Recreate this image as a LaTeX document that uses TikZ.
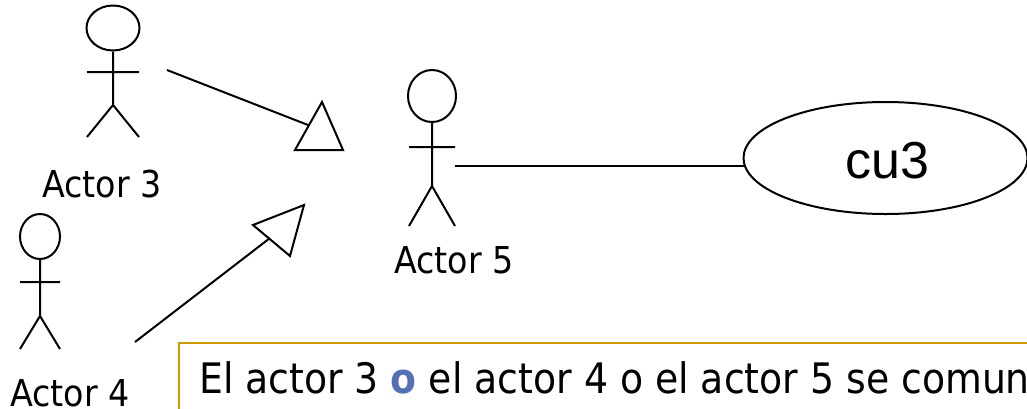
\documentclass[tikz,border=0pt]{standalone}
\usepackage{fontspec}
\setmainfont{DejaVu Sans Condensed}
\newfontfamily\arialfont{Liberation Sans}
\definecolor{boxgold}{HTML}{CC9900}
\definecolor{boxblue}{HTML}{5570B5}
\tikzset{
  stroke/.style={draw=black,line width=2pt},
  head/.style={stroke,ellipse,inner sep=0pt,minimum width=2*#1},
  actorlabel/.style={inner sep=0pt,anchor=base west,font=\fontsize{37}{37}\selectfont},
  usecase/.style={stroke,ellipse,inner sep=0pt,minimum width=284pt,minimum height=112pt},
  notebox/.style={draw=boxgold,line width=2pt}
}
\usetikzlibrary{shapes.geometric}
\begin{document}
\begin{tikzpicture}[x=1pt,y=-1pt,line join=miter]
\useasboundingbox (0,0) rectangle (1027,408);
% Actor 3
\node[head=26.5pt,minimum height=45pt] (h3) at (113,28) {};
\coordinate (hip3) at (113,105);
\coordinate (al3) at (87,72); \coordinate (ar3) at (139,72);
\coordinate (ll3) at (87,137); \coordinate (lr3) at (139,137);
\draw[stroke] (h3.south) -- (hip3) (al3) -- (ar3) (ll3) -- (hip3) -- (lr3);
\node[actorlabel] (t3) at (42,197) {Actor 3};
% Actor 4
\node[head=20pt,minimum height=45pt] (h4) at (40,236.5) {};
\coordinate (hip4) at (40,316);
\coordinate (al4) at (20,282); \coordinate (ar4) at (60,282);
\coordinate (ll4) at (20,349); \coordinate (lr4) at (60,349);
\draw[stroke] (h4.south) -- (hip4) (al4) -- (ar4) (ll4) -- (hip4) -- (lr4);
\node[actorlabel] (t4) at (10,406) {Actor 4};
% Actor 5
\node[head=24pt,minimum height=52pt] (h5) at (432,96) {};
\coordinate (hip5) at (432,186);
\coordinate (al5) at (409,147); \coordinate (ar5) at (455,147);
\coordinate (ll5) at (409,226); \coordinate (lr5) at (455,226);
\draw[stroke] (h5.south) -- (hip5) (al5) -- (ar5) (ll5) -- (hip5) -- (lr5);
\node[actorlabel] (t5) at (394,273) {Actor 5};
% Use case
\node[usecase] (uc) at (885.5,158) {};
\node[inner sep=0pt,font=\arialfont\fontsize{52}{52}\selectfont,anchor=base] (uct) at (887,178) {cu3};
% Generalisation triangles
\coordinate (a1) at (322,102); \coordinate (b1) at (295,150); \coordinate (c1) at (343,150);
\draw[stroke] (a1) -- (b1) -- (c1) -- cycle;
\coordinate (a2) at (304,205); \coordinate (b2) at (253,225); \coordinate (c2) at (290,256);
\draw[stroke] (a2) -- (b2) -- (c2) -- cycle;
% Connectors
\coordinate (s3) at (167,70); \coordinate (e3) at (308,125);
\draw[stroke] (s3) -- (e3);
\coordinate (s4) at (135,342); \coordinate (e4) at (270,238);
\draw[stroke] (s4) -- (e4);
\coordinate (s5) at (455,166); \coordinate (e5) at (744,166);
\draw[stroke] (s5) -- (e5);
% Note
\node[notebox,anchor=north west,minimum width=900pt,minimum height=100pt,inner sep=0pt] (note) at (178,342) {};
\node[inner sep=0pt,anchor=base west,font=\fontsize{42}{42}\selectfont] (notet) at (199,393) {El actor 3 \textcolor{boxblue}{\textbf{o}} el actor 4 o el actor 5 se comun};
\end{tikzpicture}
\end{document}
